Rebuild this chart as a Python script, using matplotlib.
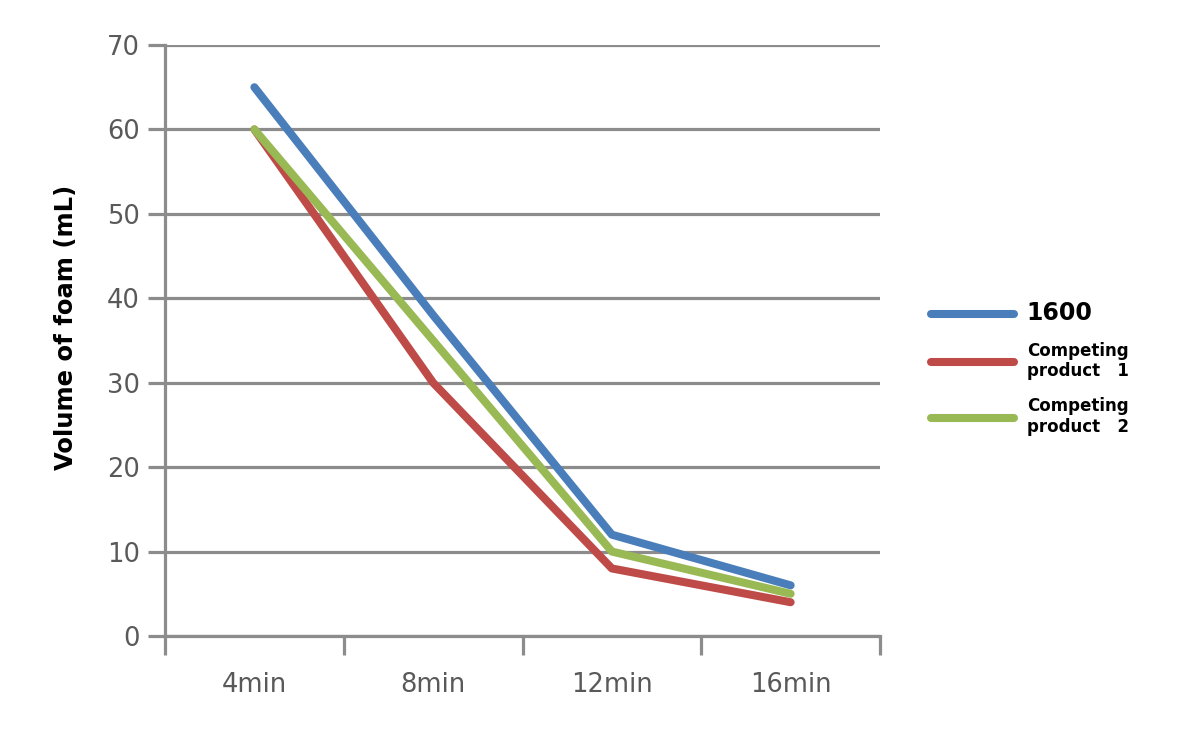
import matplotlib
matplotlib.use("Agg")
from matplotlib import pyplot as plt
import numpy as np

categories = ['4min', '8min', '12min', '16min']
foam_1600 = [65, 38, 12, 6]
foam_comp1 = [60, 30, 8, 4]
foam_comp2 = [60, 35, 10, 5]
labels = ['1600', 'Competing\nproduct   1', 'Competing\nproduct   2']
colors = ['#4a7ebb', '#be4b48', '#98b954']

grid_c = '#8c8c8c'
txt_c = '#595959'

fig = plt.figure(figsize=(11.96, 7.33), dpi=100)
ax = fig.add_axes([165/1196, 1 - 636/733, (880 - 165)/1196, (636 - 45)/733])

x = np.arange(len(categories))
lines = []
for vals, c, lab in zip([foam_1600, foam_comp1, foam_comp2], colors, labels):
    ln, = ax.plot(x, vals, color=c, lw=5.8, solid_capstyle='round',
                  solid_joinstyle='round', label=lab, zorder=3)
    lines.append(ln)
lines[2].set_zorder(4)

ax.set_xlim(-0.5, len(categories) - 0.5)
ax.set_ylim(0, 70)
ax.set_yticks(np.arange(0, 71, 10))
ax.yaxis.grid(True, color=grid_c, lw=2.3)
ax.set_axisbelow(True)

# category separators as major ticks, names on minor ticks
ax.set_xticks(np.arange(-0.5, len(categories), 1.0))
ax.set_xticklabels([])
ax.set_xticks(x, minor=True)
ax.set_xticklabels(categories, minor=True)
ax.tick_params(axis='x', which='major', length=14, width=2.3, color=grid_c, direction='out')
ax.tick_params(axis='x', which='minor', length=0, pad=26, labelsize=18.5, labelcolor=txt_c)
ax.tick_params(axis='y', length=12, width=2.3, color=grid_c, labelsize=18.5,
               labelcolor=txt_c, pad=6)

for s in ['top', 'right']:
    ax.spines[s].set_visible(False)
for s in ['left', 'bottom']:
    ax.spines[s].set_color(grid_c)
    ax.spines[s].set_linewidth(2.3)

ax.set_ylabel('Volume of foam (mL)', fontsize=17.5, fontweight='bold')
ax.yaxis.set_label_coords(-0.122, 0.523)

leg = ax.legend(handles=lines, loc='upper left', bbox_to_anchor=(916/1196, 1 - 286/733),
                bbox_transform=fig.transFigure, frameon=False, handlelength=5.0,
                handletextpad=0.75, labelspacing=1.0, fontsize=12)
for i, t in enumerate(leg.get_texts()):
    t.set_fontweight('bold')
    if i == 0:
        t.set_fontsize(17)

fig.savefig('out.png', dpi=100)
